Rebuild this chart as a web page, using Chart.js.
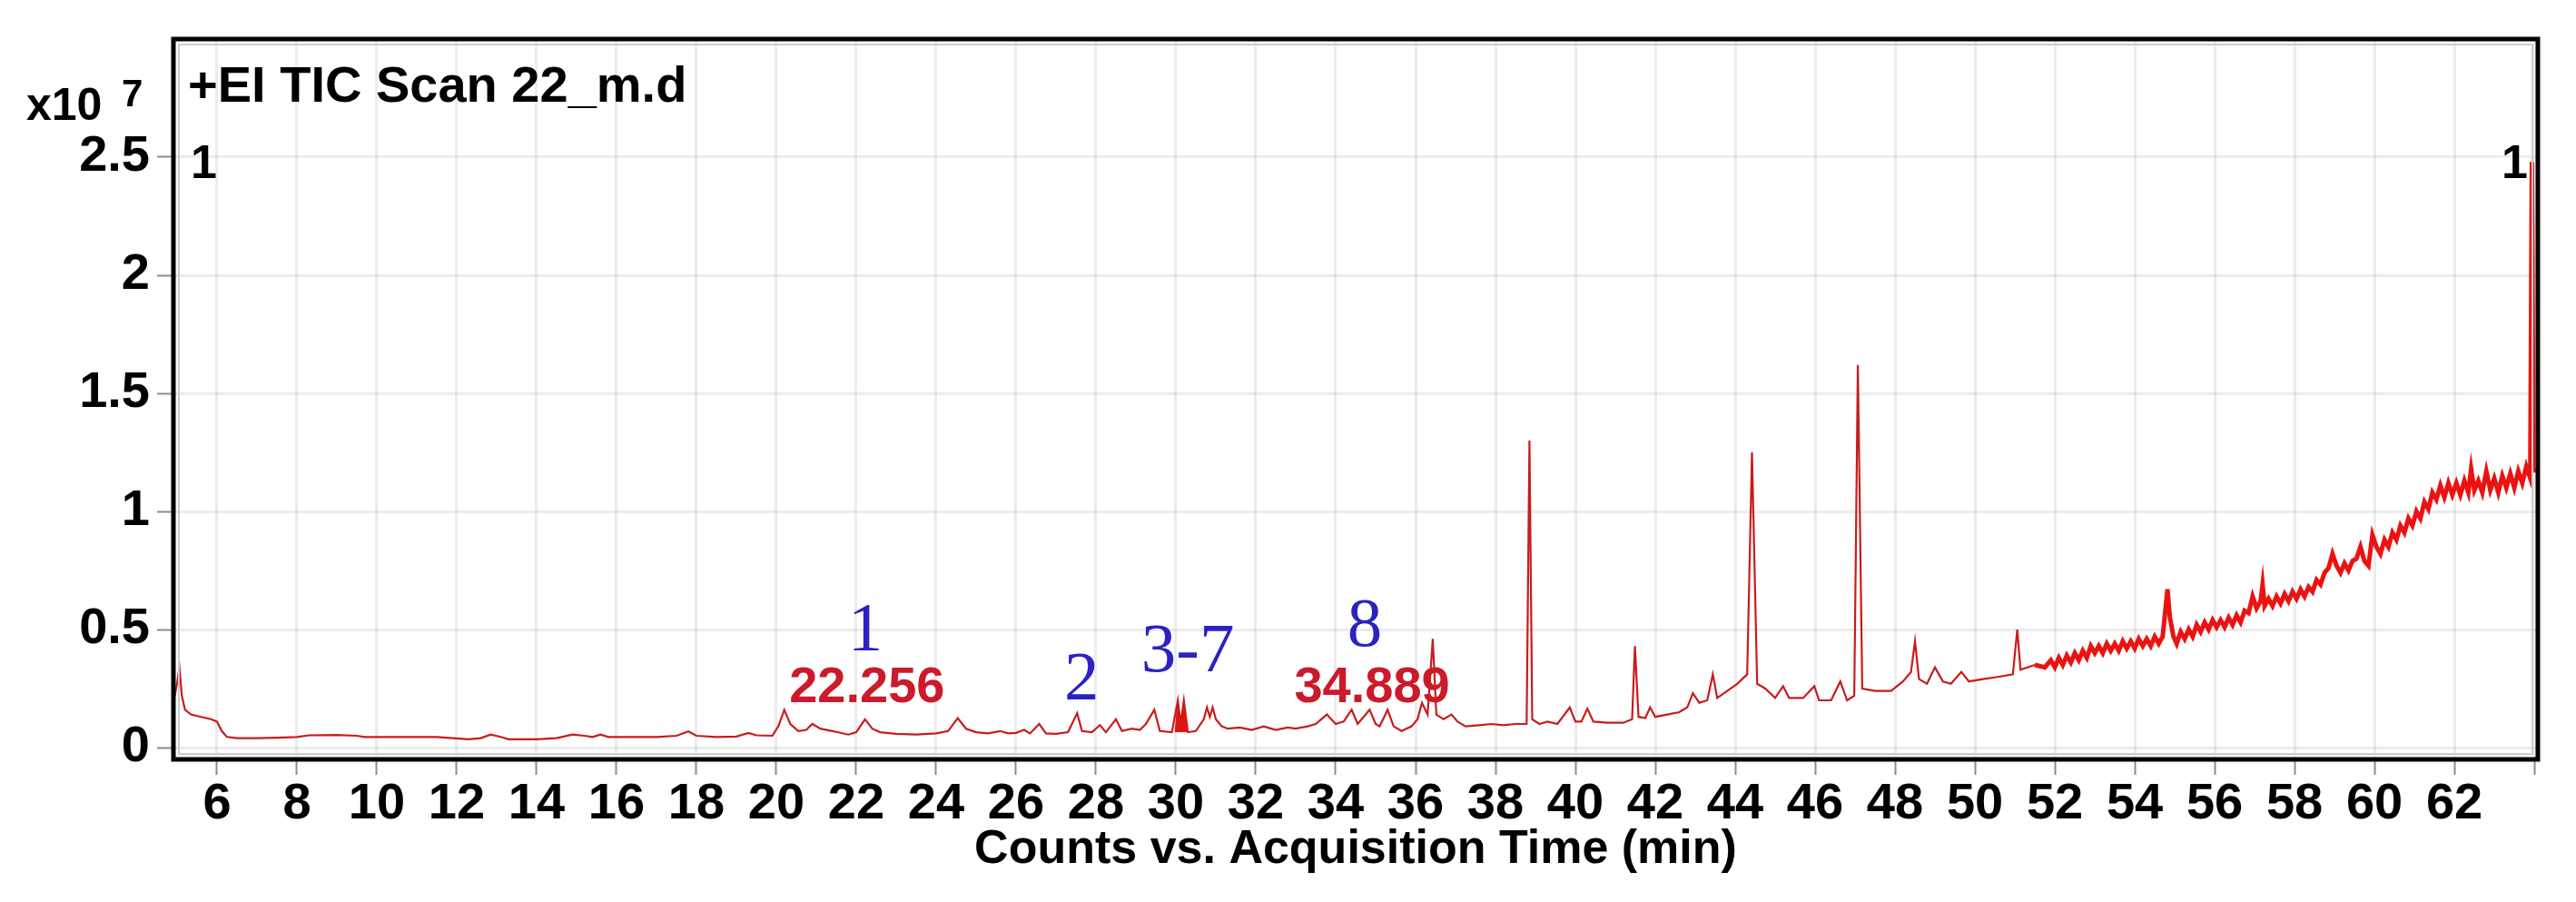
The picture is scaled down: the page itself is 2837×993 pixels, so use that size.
<!DOCTYPE html>
<html>
<head>
<meta charset="utf-8">
<script src="https://cdn.jsdelivr.net/npm/chart.js@4.4.1/dist/chart.umd.min.js"></script>
<style>
  html, body { margin: 0; padding: 0; background: #fff; }
  canvas { display: block; }
</style>
</head>
<body>
<canvas id="ticChart" width="2837" height="993"></canvas>
<script>
// retention time (min) and TIC counts (x10^7)
const retentionTimes = [
  4.92, 5.0, 5.06, 5.12, 5.2, 5.35, 5.6, 5.85, 6.0, 6.12, 6.25, 6.5, 7.0, 7.5, 8.0, 8.3, 9.0, 9.5, 9.7,
  10.5, 11.5, 11.9, 12.3, 12.6, 12.85, 13.1, 13.3, 14.0, 14.5, 14.9, 15.2, 15.4, 15.6, 15.8, 16.5,
  17.0, 17.5, 17.8, 18.0, 18.5, 19.0, 19.3, 19.5, 19.9, 20.05, 20.2, 20.35, 20.55, 20.75, 20.9,
  21.1, 21.4, 21.8, 22.0, 22.22, 22.4, 22.6, 23.0, 23.5, 24.0, 24.3, 24.54, 24.75, 25.0, 25.3,
  25.6, 25.8, 26.0, 26.2, 26.35, 26.58, 26.75, 27.0, 27.3, 27.53, 27.65, 27.9, 28.1, 28.25, 28.5,
  28.65, 28.9, 29.1, 29.25, 29.46, 29.6, 29.9, 30.05, 30.12, 30.2, 30.3, 30.5, 30.7, 30.78, 30.85,
  30.92, 31.0, 31.15, 31.3, 31.6, 31.9, 32.2, 32.5, 32.8, 33.0, 33.3, 33.5, 33.78, 34.0, 34.2,
  34.4, 34.55, 34.7, 34.85, 35.0, 35.1, 35.3, 35.45, 35.65, 35.9, 36.05, 36.16, 36.3, 36.43, 36.52,
  36.7, 36.9, 37.05, 37.25, 37.6, 37.9, 38.2, 38.5, 38.78, 38.85, 38.92, 39.1, 39.3, 39.55, 39.86,
  40.0, 40.15, 40.3, 40.45, 40.8, 41.2, 41.42, 41.49, 41.58, 41.75, 41.87, 42.0, 42.3, 42.6, 42.8,
  42.94, 43.1, 43.3, 43.44, 43.55, 43.8, 44.05, 44.3, 44.42, 44.55, 44.75, 45.0, 45.2, 45.35, 45.7,
  45.98, 46.1, 46.4, 46.63, 46.8, 46.98, 47.07, 47.18, 47.5, 47.9, 48.2, 48.4, 48.5, 48.6, 48.8,
  49.0, 49.2, 49.4, 49.66, 49.85, 50.2, 50.6, 50.95, 51.06, 51.14, 51.5, 51.75, 51.9,
  52.0, 52.1, 52.2, 52.3, 52.4, 52.5, 52.6, 52.7, 52.8, 52.9, 53.0, 53.1, 53.2, 53.3, 53.4, 53.5,
  53.6, 53.7, 53.8, 53.9, 54.0, 54.1, 54.2, 54.3, 54.4, 54.5, 54.6, 54.7, 54.82, 54.88, 54.97,
  55.05, 55.15, 55.25, 55.35, 55.45, 55.55, 55.65, 55.75, 55.85, 55.95, 56.05, 56.15, 56.25, 56.35,
  56.45, 56.55, 56.65, 56.75, 56.85, 56.95, 57.05, 57.15, 57.2, 57.25, 57.35, 57.45, 57.55, 57.65,
  57.75, 57.85, 57.95, 58.05, 58.15, 58.25, 58.35, 58.45, 58.55, 58.65, 58.75, 58.85, 58.95, 59.05,
  59.15, 59.25, 59.35, 59.45, 59.55, 59.65, 59.75, 59.85, 59.95, 60.05, 60.15, 60.25, 60.35, 60.45,
  60.55, 60.65, 60.75, 60.85, 60.95, 61.05, 61.15, 61.25, 61.35, 61.45, 61.55, 61.65, 61.75, 61.85,
  61.95, 62.05, 62.15, 62.25, 62.35, 62.42, 62.5, 62.6, 62.7, 62.8, 62.9, 63.0, 63.1, 63.2, 63.3,
  63.4, 63.5, 63.6, 63.7, 63.8, 63.9, 63.94, 63.98, 64.05
];
const ticCounts = [
  0.20, 0.27, 0.34, 0.22, 0.16, 0.14, 0.13, 0.12, 0.11, 0.07, 0.045, 0.04, 0.04, 0.042, 0.045, 0.052, 0.053, 0.05, 0.045,
  0.045, 0.045, 0.04, 0.035, 0.04, 0.055, 0.045, 0.035, 0.035, 0.04, 0.055, 0.05, 0.045, 0.055, 0.045, 0.045,
  0.045, 0.05, 0.068, 0.05, 0.045, 0.047, 0.062, 0.052, 0.05, 0.09, 0.16, 0.10, 0.07, 0.075, 0.10,
  0.08, 0.07, 0.055, 0.065, 0.12, 0.08, 0.065, 0.058, 0.055, 0.06, 0.07, 0.125, 0.08, 0.065, 0.06,
  0.07, 0.06, 0.062, 0.075, 0.06, 0.10, 0.06, 0.058, 0.065, 0.146, 0.07, 0.065, 0.095, 0.065, 0.12,
  0.07, 0.08, 0.075, 0.10, 0.16, 0.07, 0.065, 0.20, 0.10, 0.20, 0.065, 0.07, 0.12, 0.17, 0.13,
  0.17, 0.12, 0.09, 0.08, 0.085, 0.075, 0.09, 0.075, 0.085, 0.08, 0.09, 0.10, 0.14, 0.10, 0.11,
  0.16, 0.10, 0.13, 0.16, 0.10, 0.09, 0.16, 0.09, 0.07, 0.09, 0.12, 0.19, 0.14, 0.46, 0.14,
  0.12, 0.14, 0.11, 0.09, 0.095, 0.10, 0.095, 0.10, 0.10, 1.30, 0.12, 0.10, 0.11, 0.10, 0.17,
  0.11, 0.11, 0.165, 0.11, 0.105, 0.105, 0.12, 0.43, 0.13, 0.125, 0.17, 0.13, 0.14, 0.15, 0.17,
  0.23, 0.19, 0.20, 0.31, 0.21, 0.24, 0.27, 0.31, 1.25, 0.27, 0.25, 0.21, 0.26, 0.21, 0.21,
  0.26, 0.20, 0.20, 0.28, 0.20, 0.22, 1.62, 0.25, 0.24, 0.24, 0.28, 0.32, 0.45, 0.29, 0.27,
  0.34, 0.28, 0.27, 0.32, 0.28, 0.29, 0.30, 0.31, 0.50, 0.33, 0.35, 0.34, 0.37,
  0.34, 0.38, 0.35, 0.39, 0.36, 0.40, 0.37, 0.41, 0.38, 0.43, 0.40, 0.43, 0.40, 0.44, 0.41, 0.44,
  0.41, 0.45, 0.42, 0.45, 0.42, 0.46, 0.43, 0.46, 0.43, 0.47, 0.44, 0.47, 0.67, 0.55, 0.47,
  0.44, 0.49, 0.46, 0.50, 0.47, 0.52, 0.49, 0.53, 0.50, 0.54, 0.51, 0.54, 0.51, 0.55,
  0.52, 0.56, 0.53, 0.58, 0.57, 0.64, 0.59, 0.62, 0.69, 0.60, 0.63, 0.60, 0.64, 0.61,
  0.65, 0.62, 0.66, 0.63, 0.67, 0.64, 0.68, 0.66, 0.71, 0.69, 0.74, 0.76, 0.82, 0.77,
  0.74, 0.78, 0.75, 0.79, 0.80, 0.85, 0.79, 0.77, 0.90, 0.85, 0.82, 0.88, 0.85, 0.91,
  0.88, 0.94, 0.91, 0.97, 0.94, 1.00, 0.97, 1.04, 1.01, 1.08, 1.05, 1.11, 1.06, 1.12,
  1.07, 1.12, 1.07, 1.13, 1.08, 1.18, 1.09, 1.13, 1.08, 1.17, 1.09, 1.14, 1.08, 1.15, 1.10,
  1.16, 1.10, 1.17, 1.12, 1.19, 1.14, 2.48, 1.18, 1.17
];

// integrated (filled) peak around 30.1 min
const filledTimes = [29.98, 30.05, 30.12, 30.2, 30.28];
const filledCounts = [0.065, 0.20, 0.10, 0.20, 0.065];

const xTickValues = [6, 8, 10, 12, 14, 16, 18, 20, 22, 24, 26, 28, 30, 32, 34, 36, 38, 40,
  42, 44, 46, 48, 50, 52, 54, 56, 58, 60, 62, 64];
const xTickLabels = ['6', '8', '10', '12', '14', '16', '18', '20', '22', '24', '26', '28', '30', '32',
  '34', '36', '38', '40', '42', '44', '46', '48', '50', '52', '54', '56', '58', '60', '62', ''];
const yTickValues = [0, 0.5, 1, 1.5, 2, 2.5];
const yTickLabels = ['0', '0.5', '1', '1.5', '2', '2.5'];

// compound numbers (blue) and retention time labels (red)
const compoundLabels = ['1', '2', '3-7', '8'];
const compoundTimes = [22.23, 27.64, 30.3, 34.73];
const compoundLevels = [0.49, 0.28, 0.40, 0.51];
const rtLabels = ['22.256', '34.889'];
const rtTimes = [22.27, 34.91];
const rtLevels = [0.25, 0.25];

const SANS = '"Liberation Sans", Arial, sans-serif';
const SERIF = '"Liberation Serif", "Times New Roman", serif';

const textPlugin = {
  id: 'chromText',
  beforeDatasetsDraw(chart) {
    const { ctx, scales: { x, y } } = chart;
    ctx.save();
    ctx.textAlign = 'center';
    ctx.textBaseline = 'middle';
    ctx.fillStyle = '#cc1a2a';
    ctx.font = 'bold 56px ' + SANS;
    rtLabels.forEach((lab, i) => {
      ctx.fillText(lab, x.getPixelForValue(rtTimes[i]), y.getPixelForValue(rtLevels[i]));
    });
    ctx.fillStyle = '#2b22c2';
    ctx.font = '77px ' + SERIF;
    compoundLabels.forEach((lab, i) => {
      ctx.fillText(lab, x.getPixelForValue(compoundTimes[i]), y.getPixelForValue(compoundLevels[i]));
    });
    ctx.restore();
  },
  afterDraw(chart) {
    const { ctx, chartArea: a } = chart;
    ctx.save();
    // inner light frame + heavy black box
    ctx.strokeStyle = '#cccccc';
    ctx.lineWidth = 2;
    ctx.strokeRect(a.left + 6, a.top + 6, a.right - a.left - 12, a.bottom - a.top - 12);
    ctx.strokeStyle = '#000';
    ctx.lineWidth = 5;
    ctx.strokeRect(a.left, a.top, a.right - a.left, a.bottom - a.top);

    ctx.fillStyle = '#000';
    ctx.textBaseline = 'alphabetic';
    ctx.textAlign = 'left';
    ctx.font = 'bold 56px ' + SANS;
    ctx.fillText('+EI TIC Scan 22_m.d', a.left + 16, 112);
    ctx.font = 'bold 50px ' + SANS;
    ctx.fillText('x10', 29, 132);
    ctx.font = 'bold 42px ' + SANS;
    ctx.fillText('7', 134, 117);
    ctx.font = 'bold 52px ' + SANS;
    ctx.fillText('1', a.left + 19, 196);
    ctx.fillText('1', a.right - 40, 196);
    ctx.restore();
  }
};

const ctx = document.getElementById('ticChart').getContext('2d');
new Chart(ctx, {
  type: 'line',
  data: {
    datasets: [
      {
        data: retentionTimes.map((t, i) => ({ x: t, y: ticCounts[i] })),
        borderColor: '#c81c1c',
        borderWidth: 2.2,
        pointRadius: 0,
        tension: 0,
        fill: false,
        segment: {
          borderWidth: (c) => (c.p0.parsed.x > 51.4 ? 5 : 2.2),
          borderColor: (c) => (c.p0.parsed.x > 51.4 ? '#ec1212' : '#c81c1c')
        }
      },
      {
        data: filledTimes.map((t, i) => ({ x: t, y: filledCounts[i] })),
        borderColor: '#e01010',
        backgroundColor: '#e81010',
        borderWidth: 1,
        pointRadius: 0,
        fill: { value: 0.065 }
      }
    ]
  },
  options: {
    responsive: false,
    devicePixelRatio: 1,
    animation: false,
    layout: { padding: { left: 0, right: 42, top: 43, bottom: 0 } },
    plugins: {
      legend: { display: false },
      tooltip: { enabled: false }
    },
    scales: {
      x: {
        type: 'linear',
        min: 4.91,
        max: 64.09,
        afterBuildTicks: (scale) => { scale.ticks = xTickValues.map(v => ({ value: v })); },
        afterFit: (scale) => { scale.height = 157; },
        border: { display: false },
        grid: {
          color: 'rgba(0,0,0,0.075)',
          lineWidth: 3,
          drawTicks: true,
          tickLength: 17,
          tickColor: '#8c8c8c',
          tickWidth: 2
        },
        ticks: {
          autoSkip: false,
          maxRotation: 0,
          padding: -1,
          color: '#000',
          font: { family: SANS, size: 56, weight: 'bold' },
          callback: (value) => xTickLabels[xTickValues.indexOf(value)]
        },
        title: {
          display: true,
          text: 'Counts vs. Acquisition Time (min)',
          color: '#000',
          font: { family: SANS, size: 52, weight: 'bold' },
          padding: { top: 0, bottom: 26 }
        }
      },
      y: {
        min: -0.05,
        max: 3.0,
        afterBuildTicks: (scale) => { scale.ticks = yTickValues.map(v => ({ value: v })); },
        afterFit: (scale) => { scale.width = 191; },
        border: { display: false },
        grid: {
          color: 'rgba(0,0,0,0.075)',
          lineWidth: 3,
          drawTicks: true,
          tickLength: 18,
          tickColor: '#8c8c8c',
          tickWidth: 2
        },
        ticks: {
          padding: 8,
          color: '#000',
          font: { family: SANS, size: 56, weight: 'bold' },
          callback: (value) => yTickLabels[yTickValues.indexOf(value)]
        }
      }
    }
  },
  plugins: [textPlugin]
});
</script>
</body>
</html>
